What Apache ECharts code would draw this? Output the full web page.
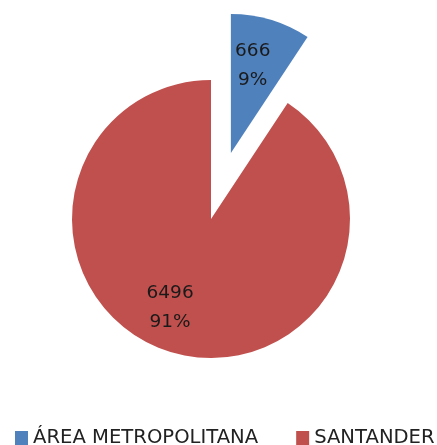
<!DOCTYPE html>
<html><head><meta charset="utf-8">
<script src="https://cdn.jsdelivr.net/npm/echarts@6/dist/echarts.min.js"></script>
<style>html,body{margin:0;padding:0;background:#fff}#c{width:437px;height:445px}</style>
</head><body><div id="c"></div>
<script>
const categories = ['ÁREA METROPOLITANA', 'SANTANDER'];
const values = [666, 6496];
const colors = ['#4F81BD', '#C0504D'];
const labelOffsets = [[2, -21], [-20, 19]];
const labelShift = [[1, -18], [0, 0]];

const chart = echarts.init(document.getElementById('c'), null, {renderer: 'canvas'});
chart.setOption({
  animation: false,
  legend: {
    left: 15, top: 428, width: 422, padding: 0,
    itemWidth: 13, itemHeight: 14, itemGap: 38,
    icon: 'rect',
    textStyle: {fontFamily: 'DejaVu Sans', fontSize: 19.6, lineHeight: 20, color: '#222'},
    data: categories
  },
  series: [{
    type: 'pie',
    center: [211, 219],
    radius: 139,
    startAngle: 90,
    clockwise: true,
    selectedMode: 'single',
    selectedOffset: 69,
    percentPrecision: 0,
    emphasis: {disabled: true},
    labelLine: {show: false},
    label: {
      position: 'inside',
      formatter: '{c}\n{d}%',
      fontFamily: 'DejaVu Sans', fontSize: 18.5, lineHeight: 29,
      color: '#1a1a1a'
    },
    labelLayout: function (p) {
      const s = labelShift[p.dataIndex];
      return {dx: s[0], dy: s[1]};
    },
    data: categories.map((n, i) => ({
      name: n, value: values[i], selected: i === 0,
      itemStyle: {color: colors[i]},
      label: {offset: labelOffsets[i]}
    }))
  }]
});
</script></body></html>
